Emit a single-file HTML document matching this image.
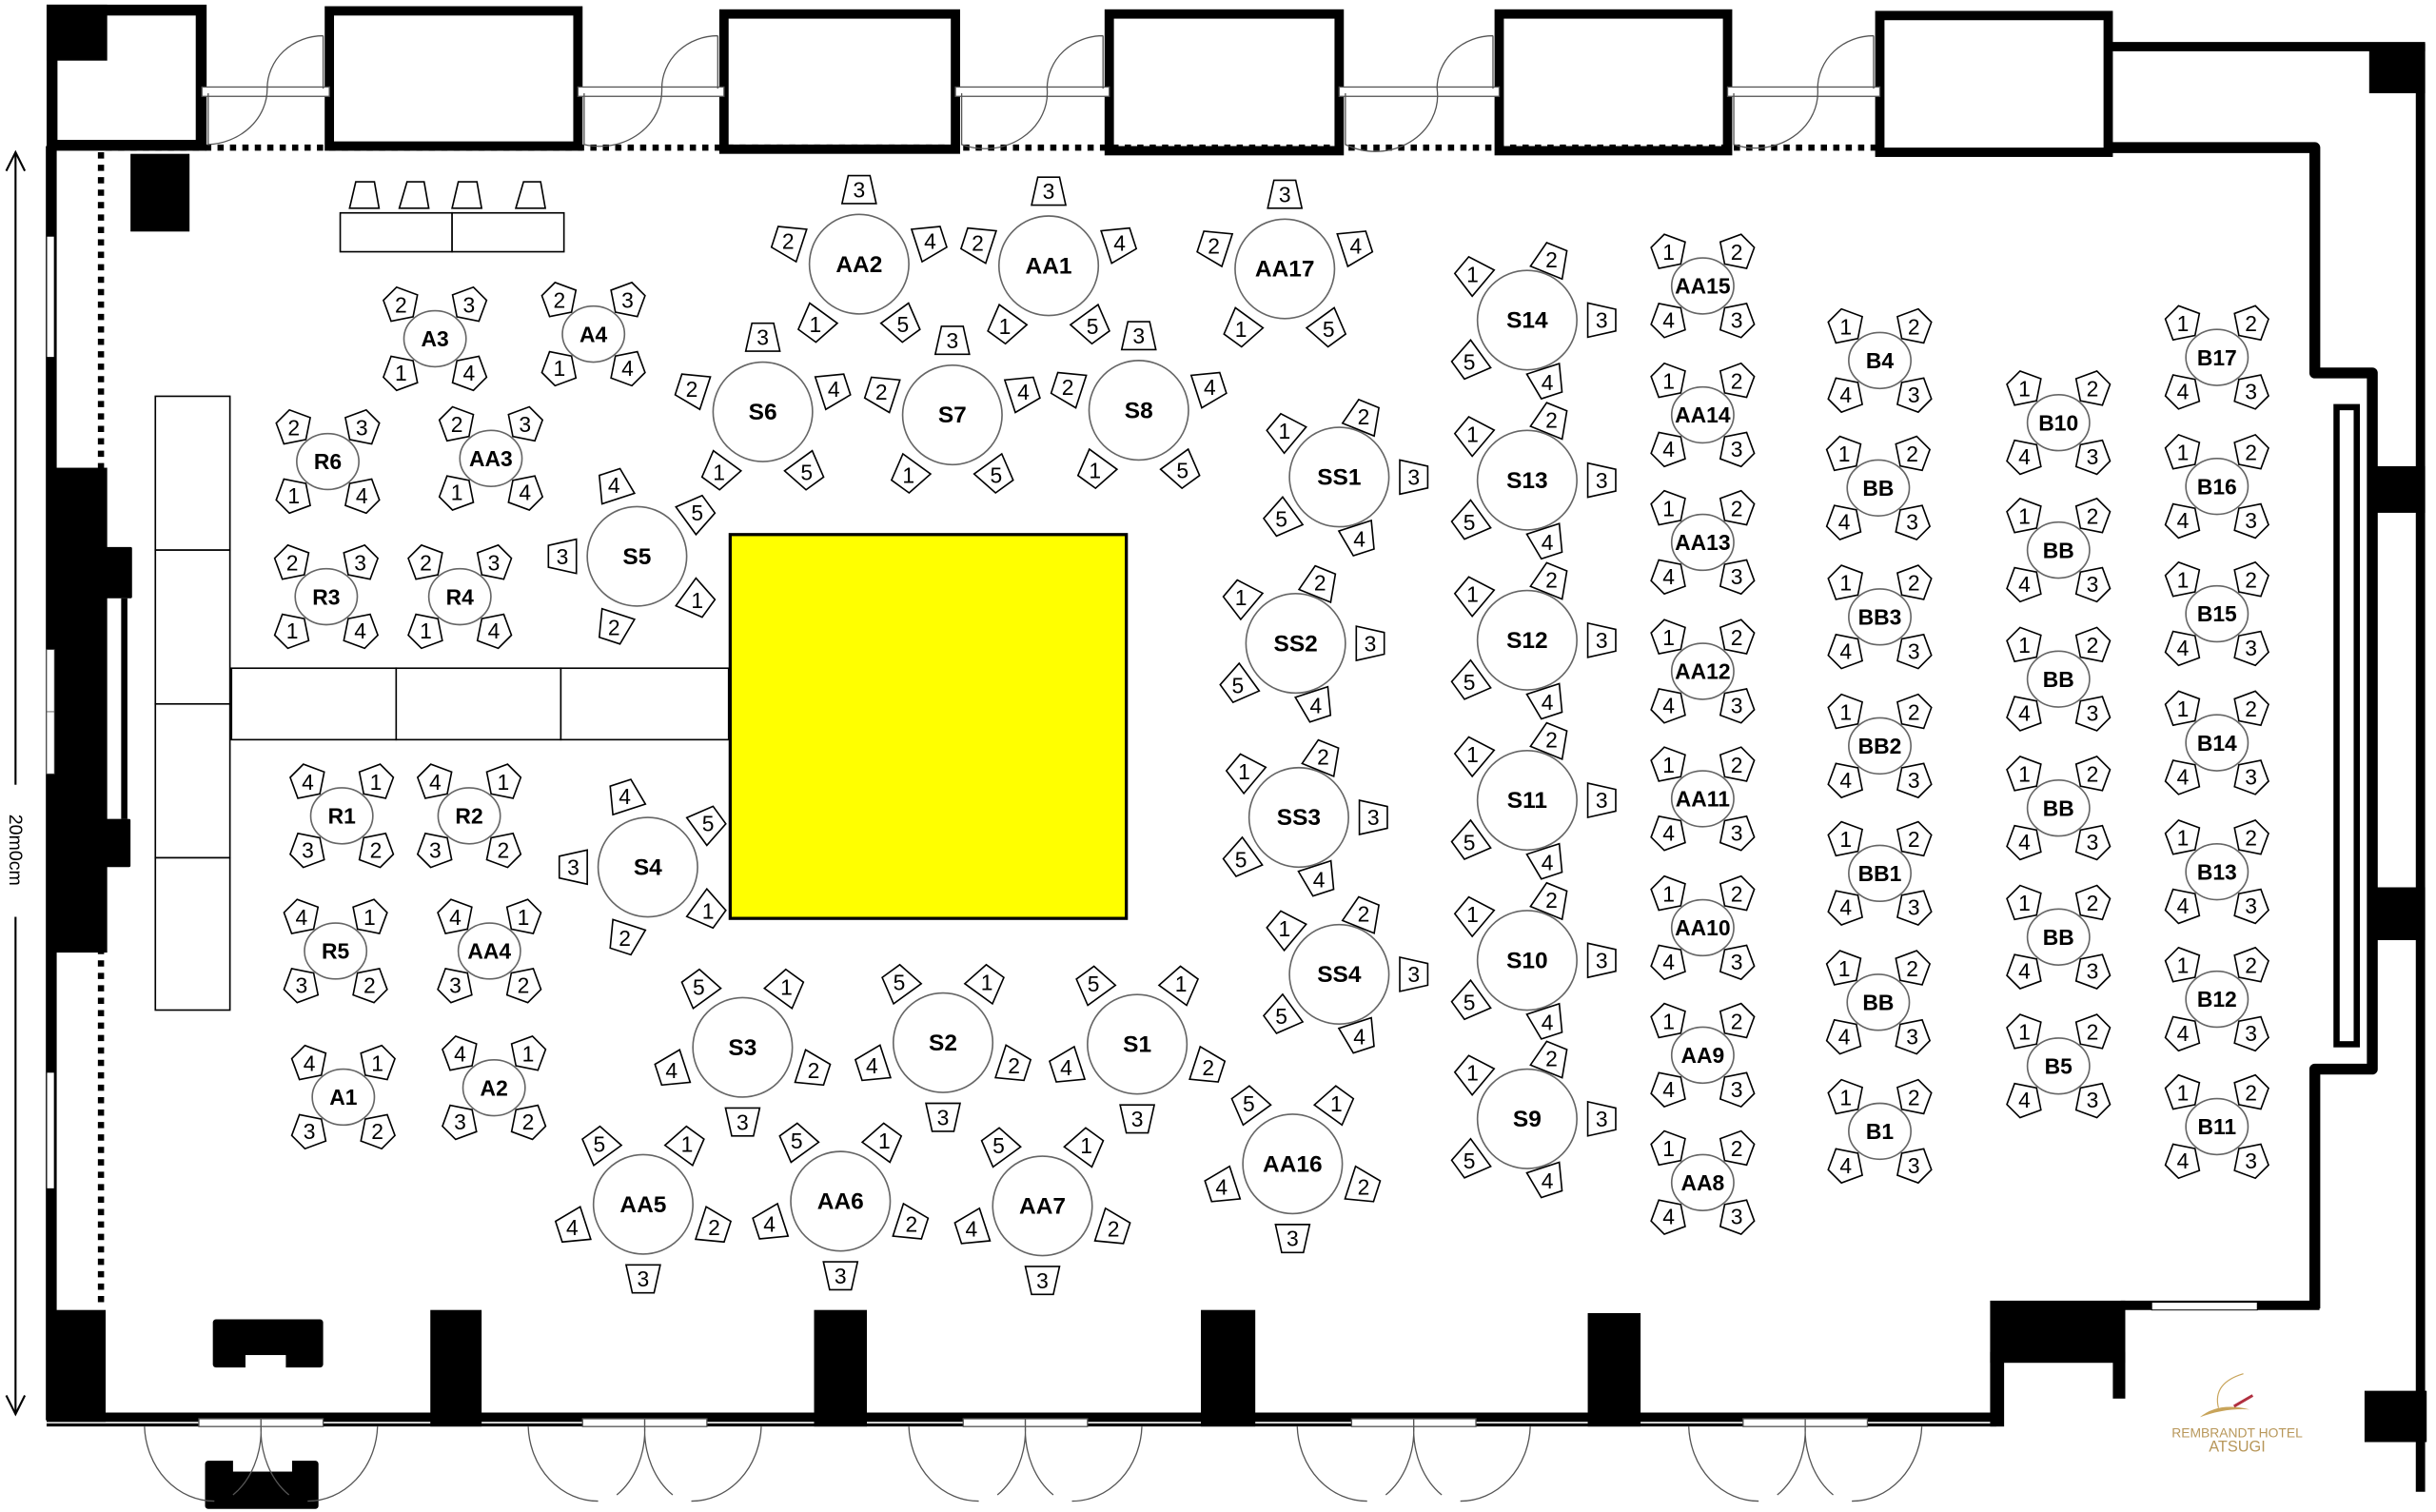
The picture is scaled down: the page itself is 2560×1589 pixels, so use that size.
<!DOCTYPE html>
<html><head><meta charset="utf-8"><style>
html,body{margin:0;padding:0;background:#fff;}
svg{display:block;}
text{font-family:"Liberation Sans",sans-serif;}
</style></head><body>
<svg id="s" width="2560" height="1589" viewBox="0 0 1568 973" preserveAspectRatio="none" xmlns="http://www.w3.org/2000/svg">
<rect width="1568" height="973" fill="#fff"/>
<g id="walls">
<rect x="33.5" y="6.5" width="96" height="87" fill="none" stroke="#000" stroke-width="7"/>
<rect x="30" y="3" width="39" height="36" fill="#000"/>
<rect x="212" y="7" width="160" height="87" fill="none" stroke="#000" stroke-width="6"/>
<rect x="466" y="9" width="149" height="87" fill="none" stroke="#000" stroke-width="6"/>
<rect x="714" y="9" width="148" height="88" fill="none" stroke="#000" stroke-width="6"/>
<rect x="965" y="9" width="147" height="88" fill="none" stroke="#000" stroke-width="6"/>
<rect x="1210" y="10" width="147" height="88" fill="none" stroke="#000" stroke-width="6"/>
<line x1="68" y1="95" x2="1210" y2="95" stroke="#000" stroke-width="4" stroke-dasharray="4,4"/>
<line x1="65" y1="98" x2="65" y2="840" stroke="#000" stroke-width="4" stroke-dasharray="4,4"/>
<rect x="84" y="99" width="38" height="50" fill="#000"/>
<line x1="33" y1="94" x2="33" y2="914" stroke="#000" stroke-width="7"/>
<rect x="30" y="152" width="5" height="78" fill="#fff" stroke="#000" stroke-width="0.6"/>
<rect x="30" y="690" width="5" height="75" fill="#fff" stroke="#000" stroke-width="0.6"/>
<rect x="30" y="301" width="39" height="312" fill="#000"/>
<rect x="68" y="352" width="17" height="33" rx="1" fill="#000"/>
<rect x="68" y="527" width="16" height="31" rx="1" fill="#000"/>
<rect x="78" y="385" width="4" height="142" fill="#000"/>
<rect x="30" y="418" width="5" height="40" fill="#fff" stroke="#555" stroke-width="0.5"/>
<rect x="30" y="458" width="5" height="40" fill="#fff" stroke="#555" stroke-width="0.5"/>
<rect x="30" y="843" width="38" height="72" fill="#000"/>
<line x1="30" y1="912" x2="1285" y2="912" stroke="#000" stroke-width="6"/>
<line x1="30" y1="917" x2="1285" y2="917" stroke="#000" stroke-width="2"/>
<rect x="277" y="843" width="33" height="75" fill="#000"/>
<rect x="524" y="843" width="34" height="75" fill="#000"/>
<rect x="773" y="843" width="35" height="75" fill="#000"/>
<rect x="1022" y="845" width="34" height="73" fill="#000"/>
<rect x="137" y="849" width="71" height="31" rx="2" fill="#000"/>
<rect x="158" y="872" width="26" height="9" fill="#fff"/>
<rect x="132" y="940" width="73" height="31" rx="2" fill="#000"/>
<rect x="150" y="939" width="38" height="8" fill="#fff"/>
<rect x="1281" y="837" width="87" height="40" fill="#000"/>
<rect x="1281" y="870" width="9" height="48" fill="#000"/>
<rect x="1360" y="870" width="8" height="30" fill="#000"/>
<line x1="1365" y1="840" x2="1493" y2="840" stroke="#000" stroke-width="6"/>
<rect x="1385" y="838" width="68" height="5" fill="#fff" stroke="#000" stroke-width="0.6"/>
<line x1="1357" y1="30" x2="1561" y2="30" stroke="#000" stroke-width="6"/>
<rect x="1525" y="28" width="36" height="32" fill="#000"/>
<line x1="1558" y1="28" x2="1558" y2="960" stroke="#000" stroke-width="6"/>
<rect x="1525" y="300" width="36" height="30" fill="#000"/>
<rect x="1527" y="571" width="34" height="34" fill="#000"/>
<rect x="1522" y="895" width="40" height="33" fill="#000"/>
<path d="M1357,95 L1490,95 L1490,240 L1527,240 L1527,688 L1490,688 L1490,842" fill="none" stroke="#000" stroke-width="7" stroke-linejoin="round"/>
<rect x="1504" y="262" width="13" height="410" fill="#fff" stroke="#000" stroke-width="4"/>
<line x1="10" y1="98" x2="10" y2="910" stroke="#000" stroke-width="1.3"/>
<path d="M4,110 L10,98 L16,110 M4,898 L10,910 L16,898" fill="none" stroke="#000" stroke-width="1.3"/>
<rect x="3" y="505" width="14" height="85" fill="#fff"/>
<text transform="translate(6,547) rotate(90)" font-size="12" text-anchor="middle" fill="#000">20m0cm</text>
<rect x="470" y="344" width="255" height="247" fill="#ffff00" stroke="#000" stroke-width="2"/>
<g fill="#fff" stroke="#000" stroke-width="1">
<rect x="100" y="255" width="48" height="99"/>
<rect x="100" y="354" width="48" height="99"/>
<rect x="100" y="453" width="48" height="99"/>
<rect x="100" y="552" width="48" height="98"/>
<rect x="149" y="430" width="106" height="46"/>
<rect x="255" y="430" width="106" height="46"/>
<rect x="361" y="430" width="108" height="46"/>
<rect x="219" y="137" width="72" height="25"/>
<rect x="291" y="137" width="72" height="25"/>
<path d="M229,117 L241,117 L244,134 L225,134 Z M262,117 L273,117 L276,134 L257,134 Z M295,117 L307,117 L310,134 L291,134 Z M337,117 L348,117 L351,134 L332,134 Z"/>
</g>
<path d="M1416,912 Q1428,902 1448,907 Q1432,906 1416,912 Z" fill="#c8a45a"/>
<path d="M1428,906 Q1424,890 1444,884" fill="none" stroke="#c8a45a" stroke-width="0.7"/>
<path d="M1438,905 L1450,898" stroke="#b03040" stroke-width="1.8"/>
<text x="1440" y="925" font-family="Liberation Serif,serif" font-size="8.5" fill="#b8975a" text-anchor="middle">REMBRANDT HOTEL</text>
<text x="1440" y="934" font-family="Liberation Serif,serif" font-size="10" fill="#b8975a" text-anchor="middle">ATSUGI</text>
</g>
<g id="doors" fill="none" stroke="#555" stroke-width="0.8"></g>
<g id="tables"></g>
</svg>
<script>
var NS="http://www.w3.org/2000/svg";
function el(p,t,a,txt){var e=document.createElementNS(NS,t);for(var k in a)e.setAttribute(k,a[k]);if(txt!==undefined)e.textContent=txt;p.appendChild(e);return e;}
var D=document.getElementById('doors');
[[130,212],[372,466],[615,714],[862,965],[1112,1210]].forEach(function(g){
 var a=g[0],b=g[1];
 el(D,'rect',{x:a,y:56,width:b-a,height:6,fill:'#fff',stroke:'#555','stroke-width':0.8});
 el(D,'path',{d:'M'+(b-4)+',23 L'+(b-4)+',57 M'+(b-4)+',23 A36,34 0 0 0 '+(b-40)+',57 A40,36 0 0 1 '+(a+4)+',93 L'+(a+4)+',60'});
});
[168,415,660,910,1162].forEach(function(c){
 el(D,'rect',{x:c-40,y:913,width:40,height:5,fill:'#fff',stroke:'#555','stroke-width':0.8});
 el(D,'rect',{x:c,y:913,width:40,height:5,fill:'#fff',stroke:'#555','stroke-width':0.8});
 el(D,'path',{d:'M'+(c-75)+',918 A45,50 0 0 0 '+(c-30)+',966 M'+c+',918 A40,50 0 0 1 '+(c-18)+',962 M'+(c+75)+',918 A45,50 0 0 1 '+(c+30)+',966 M'+c+',918 A40,50 0 0 0 '+(c+18)+',962'});
});
var T=document.getElementById('tables');
function chair(x,y,ang,n,small){
 var g=el(T,'g',{transform:'translate('+x.toFixed(1)+','+y.toFixed(1)+')'});
 var r=ang+90;
 var pts=small?'-6,-10 6,-10 12,3 0,11 -12,3':'-7,-9 7,-9 11,9 -11,9';
 el(g,'polygon',{points:pts,transform:'rotate('+r+')',fill:'#fff',stroke:'#000','stroke-width':1});
 el(g,'text',{x:0,y:5,'font-size':14,'text-anchor':'middle',fill:'#000'},n);
}
function big(cx,cy,lab,seats){
 seats.forEach(function(s){var d=s[2]||48;var a=s[0]*Math.PI/180;chair(cx+d*Math.cos(a),cy+d*Math.sin(a),s[0],s[1],false);});
 el(T,'circle',{cx:cx,cy:cy,r:32,fill:'#fff',stroke:'#666','stroke-width':1});
 el(T,'text',{x:cx,y:cy+5,'font-size':15,'font-weight':'bold','text-anchor':'middle'},lab);
}
function sm(cx,cy,lab,nums){
 var an=[-135,-45,135,45];
 an.forEach(function(d,i){var a=d*Math.PI/180;chair(cx+31*Math.cos(a),cy+31*Math.sin(a),d,nums[i],true);});
 el(T,'ellipse',{cx:cx,cy:cy,rx:20,ry:18,fill:'#fff',stroke:'#666','stroke-width':1});
 el(T,'text',{x:cx,y:cy+5,'font-size':14,'font-weight':'bold','text-anchor':'middle'},lab);
}
var TOP=[[-90,3],[-18,4],[54,5],[126,1],[198,2]];
var LEFT=[[180,3],[-108,4],[-36,5],[36,1],[108,2]];
var BOT=[[90,3],[18,2],[-54,1],[-126,5],[162,4]];
var RIGHT=[[0,3],[72,4,42],[144,5,46],[220,1,46],[292,2,42]];
[[491,265,'S6'],[613,267,'S7'],[733,264,'S8'],[553,170,'AA2'],[675,171,'AA1'],[827,173,'AA17']].forEach(function(t){big(t[0],t[1],t[2],TOP);});
[[410,358,'S5'],[417,558,'S4']].forEach(function(t){big(t[0],t[1],t[2],LEFT);});
[[478,674,'S3'],[607,671,'S2'],[732,672,'S1'],[414,775,'AA5'],[541,773,'AA6'],[671,776,'AA7'],[832,749,'AA16']].forEach(function(t){big(t[0],t[1],t[2],BOT);});
[[862,307,'SS1'],[834,414,'SS2'],[836,526,'SS3'],[862,627,'SS4'],[983,206,'S14'],[983,309,'S13'],[983,412,'S12'],[983,515,'S11'],[983,618,'S10'],[983,720,'S9']].forEach(function(t){big(t[0],t[1],t[2],RIGHT);});
var A=['2','3','1','4'],R=['4','1','3','2'],B=['1','2','4','3'];
[[280,218,'A3'],[382,215,'A4'],[211,297,'R6'],[316,295,'AA3'],[210,384,'R3'],[296,384,'R4']].forEach(function(t){sm(t[0],t[1],t[2],A);});
[[220,525,'R1'],[302,525,'R2'],[216,612,'R5'],[315,612,'AA4'],[221,706,'A1'],[318,700,'A2']].forEach(function(t){sm(t[0],t[1],t[2],R);});
[[1096,184,'AA15'],[1096,267,'AA14'],[1096,349,'AA13'],[1096,432,'AA12'],[1096,514,'AA11'],[1096,597,'AA10'],[1096,679,'AA9'],[1096,761,'AA8'],
 [1210,232,'B4'],[1209,314,'BB'],[1210,397,'BB3'],[1210,480,'BB2'],[1210,562,'BB1'],[1209,645,'BB'],[1210,728,'B1'],
 [1325,272,'B10'],[1325,354,'BB'],[1325,437,'BB'],[1325,520,'BB'],[1325,603,'BB'],[1325,686,'B5'],
 [1427,230,'B17'],[1427,313,'B16'],[1427,395,'B15'],[1427,478,'B14'],[1427,561,'B13'],[1427,643,'B12'],[1427,725,'B11']].forEach(function(t){sm(t[0],t[1],t[2],B);});
</script>
</body></html>
